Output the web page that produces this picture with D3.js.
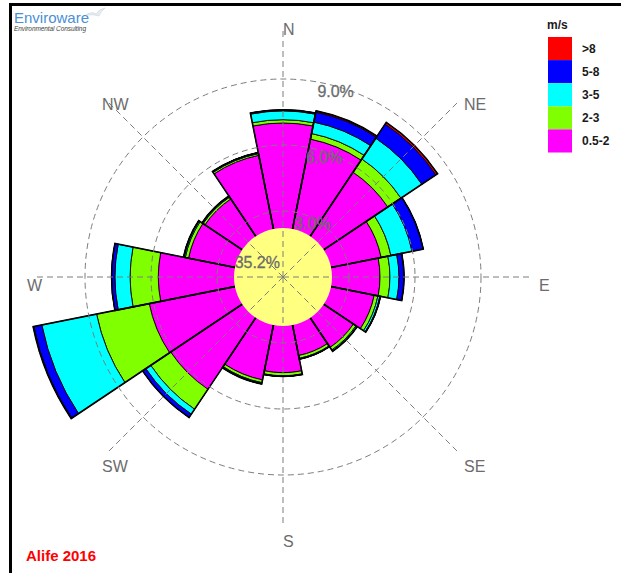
<!DOCTYPE html>
<html>
<head>
<meta charset="utf-8">
<script src="https://cdn.jsdelivr.net/npm/d3@7"></script>
<style>
  html, body { margin: 0; padding: 0; background: #ffffff; }
  svg { display: block; font-family: "Liberation Sans", Arial, sans-serif; }
</style>
</head>
<body>
<svg id="chart" width="621" height="573"></svg>
<script>
// Wind directions (sector the wind blows from), clockwise from north
const directions = ["N", "NNE", "NE", "ENE", "E", "ESE", "SE", "SSE",
                    "S", "SSW", "SW", "WSW", "W", "WNW", "NW", "NNW"];

// Wind speed classes (m/s), from slowest to fastest
const speedClasses = ["0.5-2", "2-3", "3-5", "5-8", ">8"];

// Frequency (% of non-calm hours) per direction for each speed class
const freq_0_5_2 = [7.00, 6.39, 5.73, 4.55, 4.41, 4.23, 3.85, 3.64, 4.35, 4.77, 6.14, 6.20, 5.67, 4.38, 4.27, 5.64];
const freq_2_3   = [0.15, 0.26, 0.72, 0.45, 0.45, 0.17, 0.14, 0.13, 0.14, 0.13, 1.09, 2.44, 1.28, 0.15, 0.10, 0.08];
const freq_3_5   = [0.40, 0.53, 1.14, 0.98, 0.41, 0.09, 0.05, 0.03, 0.02, 0.04, 0.27, 2.54, 0.69, 0.05, 0.04, 0.04];
const freq_5_8   = [0.05, 0.46, 0.77, 0.52, 0.23, 0.03, 0.02, 0.01, 0.01, 0.02, 0.18, 0.37, 0.15, 0.03, 0.02, 0.01];
const freq_gt8   = [0.00, 0.06, 0.09, 0.00, 0.00, 0.00, 0.00, 0.00, 0.00, 0.00, 0.00, 0.03, 0.00, 0.00, 0.00, 0.00];

// Calm share and ring ticks
const calmLabel = "35.2%";
const ringTicks = [3, 6, 9];
const ringLabels = ["3.0%", "6.0%", "9.0%"];
const compassLabels = ["N", "NE", "E", "SE", "S", "SW", "W", "NW"];

// Legend order (top to bottom) and titles
const legendTitle = "m/s";
const legendOrder = [">8", "5-8", "3-5", "2-3", "0.5-2"];
const chartTitle = "Alife 2016";

// ---------- styling ----------
const classColors = {
  "0.5-2": "#ff00ff",
  "2-3":   "#80ff00",
  "3-5":   "#00ffff",
  "5-8":   "#0000ff",
  ">8":    "#ff0000"
};
const gridColor = "#7d7d7d";
const labelGray = "#6c6c6c";
const cx = 283, cy = 277;
const calmRadius = 49;
const compassRadius = 256;
const axisRadius = 246;

const svg = d3.select("#chart");

// Build a table for stacking
const seriesByClass = {
  "0.5-2": freq_0_5_2, "2-3": freq_2_3, "3-5": freq_3_5, "5-8": freq_5_8, ">8": freq_gt8
};
const table = directions.map((d, i) => {
  const row = { dir: d };
  speedClasses.forEach(k => { row[k] = seriesByClass[k][i]; });
  return row;
});
const stacked = d3.stack().keys(speedClasses)(table);

// Scales: angle per sector, radius linear in percent
const angle = d3.scaleBand()
  .domain(directions)
  .range([-Math.PI / 16, 2 * Math.PI - Math.PI / 16])
  .paddingInner(0).paddingOuter(0);
const r = d3.scaleLinear().domain([0, 9]).range([0, 198]);

const arc = d3.arc();
const g = svg.append("g").attr("transform", `translate(${cx},${cy})`);

// Petal bands
stacked.forEach(layer => {
  g.append("g").selectAll("path")
    .data(layer)
    .join("path")
    .attr("d", d => arc({
      innerRadius: r(d[0]),
      outerRadius: r(d[1]),
      startAngle: angle(d.data.dir),
      endAngle: angle(d.data.dir) + angle.bandwidth()
    }))
    .attr("fill", classColors[layer.key])
    .attr("stroke", "#000")
    .attr("stroke-width", 0.9);
});

// Petal outlines
const totals = table.map(row => ({ dir: row.dir, total: d3.sum(speedClasses, k => row[k]) }));
g.append("g").selectAll("path")
  .data(totals)
  .join("path")
  .attr("d", d => arc({
    innerRadius: 0,
    outerRadius: r(d.total),
    startAngle: angle(d.dir),
    endAngle: angle(d.dir) + angle.bandwidth()
  }))
  .attr("fill", "none")
  .attr("stroke", "#000")
  .attr("stroke-width", 1.6)
  .attr("stroke-linejoin", "miter");

// Calm circle
g.append("circle").attr("r", calmRadius).attr("fill", "#ffff80");

// Dashed grid rings
g.append("g").selectAll("circle")
  .data(ringTicks)
  .join("circle")
  .attr("r", d => r(d))
  .attr("fill", "none")
  .attr("stroke", gridColor)
  .attr("stroke-width", 1)
  .attr("stroke-dasharray", "6,4");

// Dashed compass axes
const compassAngle = d3.scaleLinear().domain([0, compassLabels.length]).range([0, 2 * Math.PI]);
g.append("g").selectAll("line")
  .data(compassLabels)
  .join("line")
  .attr("x1", 0).attr("y1", 0)
  .attr("x2", (d, i) => axisRadius * Math.sin(compassAngle(i)))
  .attr("y2", (d, i) => -axisRadius * Math.cos(compassAngle(i)))
  .attr("stroke", gridColor)
  .attr("stroke-width", 1)
  .attr("stroke-dasharray", "6,4");

// Compass labels
g.append("g").selectAll("text")
  .data(compassLabels)
  .join("text")
  .attr("x", (d, i) => compassRadius * Math.sin(compassAngle(i)))
  .attr("y", (d, i) => -compassRadius * Math.cos(compassAngle(i)) + 14)
  .attr("font-size", 16)
  .attr("fill", labelGray)
  .text(d => d);

// Ring labels
g.append("g").selectAll("text")
  .data(ringTicks)
  .join("text")
  .attr("x", d => r(d) * Math.sin(Math.PI / 18))
  .attr("y", d => -r(d) + 17.5)
  .attr("font-size", 16)
  .attr("fill", labelGray)
  .attr("stroke", labelGray)
  .attr("stroke-width", 0.3)
  .text((d, i) => ringLabels[i]);

// Calm label
g.append("text")
  .attr("x", -3).attr("y", -9)
  .attr("text-anchor", "end")
  .attr("font-size", 16)
  .attr("fill", labelGray)
  .attr("stroke", labelGray)
  .attr("stroke-width", 0.3)
  .text(calmLabel);

// Legend
const legend = svg.append("g").attr("transform", "translate(548,37)");
legend.append("text")
  .attr("x", -1).attr("y", -8)
  .attr("font-size", 12).attr("font-weight", "bold").attr("fill", "#1a1a1a")
  .text(legendTitle);
const legendY = d3.scaleBand().domain(legendOrder).range([0, 115.5]);
legend.selectAll("rect")
  .data(legendOrder)
  .join("rect")
  .attr("x", 0).attr("y", d => legendY(d))
  .attr("width", 24).attr("height", legendY.bandwidth())
  .attr("fill", d => classColors[d]);
legend.selectAll("text.lbl")
  .data(legendOrder)
  .join("text")
  .attr("class", "lbl")
  .attr("x", 34)
  .attr("y", d => legendY(d) + legendY.bandwidth() / 2 + 4.5)
  .attr("font-size", 12).attr("font-weight", "bold").attr("fill", "#1a1a1a")
  .text(d => d);

// Title
svg.append("text")
  .attr("x", 26).attr("y", 561)
  .attr("font-size", 15).attr("font-weight", "bold").attr("fill", "#ff0000")
  .text(chartTitle);

// Frame
svg.append("rect").attr("x", 9).attr("y", 3).attr("width", 612).attr("height", 3).attr("fill", "#000");
svg.append("rect").attr("x", 9).attr("y", 3).attr("width", 3).attr("height", 570).attr("fill", "#000");

// Company logo
svg.append("text")
  .attr("x", 14).attr("y", 23)
  .attr("font-size", 15).attr("fill", "#4a8fd6")
  .text("Enviroware");
svg.append("text")
  .attr("x", 14).attr("y", 31)
  .attr("font-size", 6.5).attr("font-style", "italic").attr("fill", "#444")
  .attr("textLength", 72)
  .text("Environmental Consulting");
svg.append("path")
  .attr("d", "M86,15 Q92,11 96,14 Q99,9 105,8 Q100,12 99,16 Q94,14 86,15 Z")
  .attr("fill", "#e6ecf2").attr("stroke", "#c8d2dc").attr("stroke-width", 0.6);
</script>
</body>
</html>
